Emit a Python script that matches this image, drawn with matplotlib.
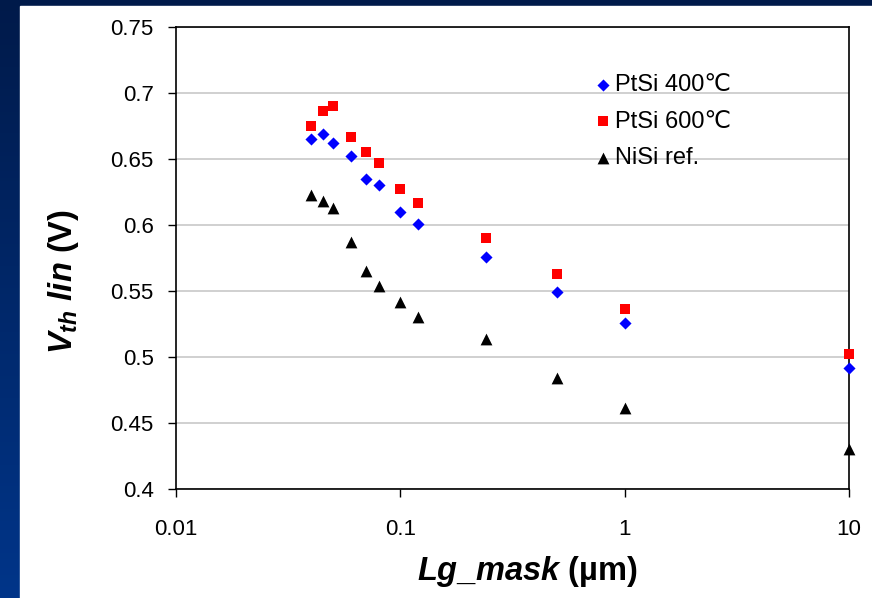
import numpy as np
import matplotlib
matplotlib.use('Agg')
import matplotlib.pyplot as plt
from matplotlib.patches import Rectangle
from matplotlib.colors import LinearSegmentedColormap

plt.rcParams['font.family'] = ['Liberation Sans', 'DejaVu Sans']
plt.rcParams['mathtext.fontset'] = 'custom'
plt.rcParams['mathtext.it'] = 'Liberation Sans:italic:bold'
plt.rcParams['mathtext.rm'] = 'Liberation Sans:bold'
plt.rcParams['mathtext.bf'] = 'Liberation Sans:bold'

# data
lg_mask = [0.04, 0.045, 0.05, 0.06, 0.07, 0.08, 0.1, 0.12, 0.24, 0.5, 1, 10]
vth_pt400 = [0.665, 0.669, 0.662, 0.652, 0.635, 0.630, 0.610, 0.601, 0.576, 0.549, 0.526, 0.492]
vth_pt600 = [0.675, 0.686, 0.690, 0.667, 0.655, 0.647, 0.627, 0.617, 0.590, 0.563, 0.536, 0.502]
vth_nisi = [0.623, 0.618, 0.613, 0.587, 0.565, 0.554, 0.542, 0.530, 0.514, 0.484, 0.461, 0.430]
labels = ['PtSi 400\u2103', 'PtSi 600\u2103', 'NiSi ref.']
xticks = [0.01, 0.1, 1, 10]
xticklabels = ['0.01', '0.1', '1', '10']
yticks = [0.4, 0.45, 0.5, 0.55, 0.6, 0.65, 0.7, 0.75]
yticklabels = ['0.4', '0.45', '0.5', '0.55', '0.6', '0.65', '0.7', '0.75']

fig = plt.figure(figsize=(8.72, 5.98), dpi=100)

# slide background: navy gradient with white panel
bg = fig.add_axes([0, 0, 1, 1], zorder=-5)
cmap = LinearSegmentedColormap.from_list('navy', ['#001a4a', '#003589'])
grad = np.linspace(0, 1, 256).reshape(-1, 1)
bg.imshow(grad, aspect='auto', cmap=cmap, extent=[0, 1, 0, 1], origin='upper')
bg.add_patch(Rectangle((20 / 872, 0), 1, 1 - 6 / 598, color='white', transform=bg.transAxes))
bg.set_xlim(0, 1)
bg.set_ylim(0, 1)
bg.axis('off')

ax = fig.add_axes([176 / 872, 1 - 489 / 598, 673 / 872, 462 / 598])
ax.scatter(lg_mask, vth_pt400, marker='D', s=38, color='#0000ff', label=labels[0], clip_on=False, zorder=3, linewidths=0)
ax.scatter(lg_mask, vth_pt600, marker='s', s=56, color='#ff0000', label=labels[1], clip_on=False, zorder=3, linewidths=0)
ax.scatter(lg_mask, vth_nisi, marker='^', s=72, color='black', label=labels[2], clip_on=False, zorder=3, linewidths=0)

ax.set_xscale('log')
ax.set_xlim(0.01, 10)
ax.set_ylim(0.4, 0.75)
ax.set_xticks(xticks)
ax.set_xticklabels(xticklabels)
ax.xaxis.set_minor_locator(matplotlib.ticker.NullLocator())
ax.set_yticks(yticks)
ax.set_yticklabels(yticklabels)
ax.tick_params(axis='both', labelsize=16, direction='out', length=6, width=1)
ax.tick_params(axis='y', pad=10)
ax.tick_params(axis='x', pad=15.5)
ax.yaxis.grid(True, color='#c8c8c8', linewidth=1.2)
ax.set_axisbelow(True)
for sp in ax.spines.values():
    sp.set_linewidth(1.2)
    sp.set_color('black')

ax.set_xlabel('$Lg\\_mask$ (\u00b5m)', fontsize=23.5, fontweight='bold')
ax.set_ylabel(r'$V_{th}\ lin$ (V)', fontsize=23.5, fontweight='bold')
ax.xaxis.set_label_coords(0.522, -0.14)
ax.yaxis.set_label_coords(-0.141, 0.45)

ax.legend(loc='upper left', bbox_to_anchor=(0.603, 0.923), frameon=False, fontsize=17,
          handlelength=0.8, handletextpad=0.12, labelspacing=0.6, borderpad=0, scatterpoints=1)

fig.savefig('out.png', dpi=100)
